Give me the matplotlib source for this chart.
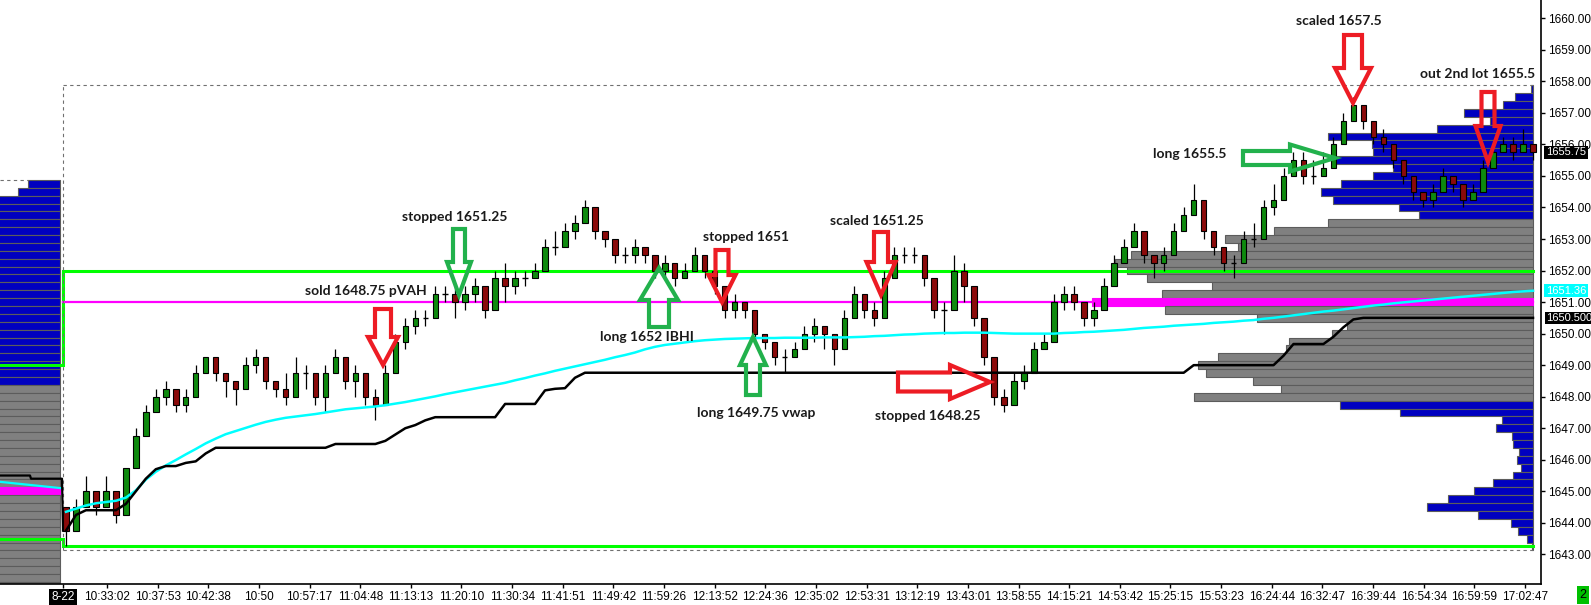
import numpy as np
import matplotlib
matplotlib.use("Agg")
import matplotlib.pyplot as plt
from matplotlib.patches import Polygon

# ---------------- data ----------------
first_open = 1644.5
closes = [1643.75, 1644.5, 1645.0, 1644.5, 1645.0, 1644.25, 1645.75, 1646.75, 1647.5, 1648.0,
          1648.25, 1647.75, 1648.0, 1648.75, 1649.25, 1648.75, 1648.5, 1648.25, 1649.0, 1649.25,
          1648.5, 1648.25, 1648.0, 1648.75, 1648.75, 1648.0, 1648.75, 1649.25, 1648.5, 1648.75,
          1648.0, 1647.75, 1648.75, 1649.75, 1650.25, 1650.5, 1650.5, 1651.25, 1651.25, 1651.0,
          1651.25, 1651.5, 1650.75, 1651.75, 1651.5, 1651.75, 1651.75, 1652.0, 1652.75, 1652.75,
          1653.25, 1653.5, 1654.0, 1653.25, 1653.0, 1652.5, 1652.5, 1652.75, 1652.5, 1652.0,
          1652.25, 1651.75, 1652.0, 1652.5, 1652.0, 1651.5, 1650.75, 1651.0, 1650.75, 1650.0,
          1649.75, 1649.25, 1649.25, 1649.5, 1650.0, 1650.25, 1650.0, 1649.5, 1650.5, 1651.25,
          1650.75, 1650.5, 1651.75, 1652.5, 1652.5, 1652.5, 1651.75, 1650.75, 1650.75, 1652.0,
          1651.5, 1650.5, 1649.25, 1648.0, 1647.75, 1648.5, 1648.75, 1649.5, 1649.75, 1651.0,
          1651.25, 1651.0, 1650.5, 1650.75, 1651.5, 1652.25, 1652.75, 1653.25, 1652.5, 1652.25,
          1652.5, 1653.25, 1653.75, 1654.25, 1653.25, 1652.75, 1652.25, 1652.25, 1653.0, 1653.0,
          1654.0, 1654.25, 1655.0, 1655.5, 1655.0, 1655.0, 1655.25, 1656.0, 1656.75, 1657.25,
          1656.75, 1656.25, 1656.0, 1655.5, 1655.0, 1654.5, 1654.25, 1654.5, 1655.0, 1654.75,
          1654.25, 1654.5, 1655.25, 1655.75, 1656.0, 1655.75, 1656.0, 1655.75]
highs = [1644.5, 1644.75, 1645.5, 1645.0, 1645.5, 1644.75, 1645.75, 1647.0, 1647.75, 1648.25,
         1648.5, 1648.25, 1648.25, 1649.0, 1649.25, 1649.0, 1648.75, 1648.5, 1649.25, 1649.5,
         1649.0, 1648.5, 1648.75, 1649.25, 1649.0, 1648.5, 1649.0, 1649.5, 1649.0, 1649.0,
         1648.5, 1648.25, 1649.0, 1650.0, 1650.5, 1650.75, 1650.75, 1651.5, 1651.5, 1651.5,
         1651.5, 1651.75, 1651.25, 1652.0, 1652.25, 1652.0, 1652.0, 1652.25, 1653.0, 1653.25,
         1653.5, 1653.75, 1654.25, 1653.75, 1653.25, 1653.0, 1652.75, 1653.0, 1652.75, 1652.5,
         1652.5, 1652.25, 1652.25, 1652.75, 1652.5, 1652.0, 1651.25, 1651.25, 1651.0, 1650.5,
         1650.0, 1649.75, 1649.5, 1649.75, 1650.25, 1650.5, 1650.25, 1650.0, 1650.75, 1651.5,
         1651.25, 1651.0, 1652.0, 1652.75, 1652.75, 1652.75, 1652.5, 1651.5, 1651.0, 1652.5,
         1652.25, 1651.25, 1650.0, 1648.75, 1648.25, 1648.75, 1649.0, 1649.75, 1650.0, 1651.25,
         1651.5, 1651.5, 1651.0, 1651.0, 1651.75, 1652.5, 1653.0, 1653.5, 1653.0, 1652.5,
         1652.75, 1653.5, 1654.0, 1654.75, 1653.75, 1653.25, 1652.75, 1652.5, 1653.25, 1653.5,
         1654.25, 1654.75, 1655.25, 1655.75, 1655.75, 1655.5, 1655.75, 1656.25, 1657.0, 1657.5,
         1657.25, 1656.75, 1656.5, 1656.0, 1655.5, 1655.0, 1654.5, 1654.75, 1655.25, 1655.0,
         1654.5, 1654.75, 1655.5, 1656.0, 1656.25, 1656.25, 1656.5, 1656.0]
lows = [1643.25, 1643.75, 1644.5, 1644.25, 1644.5, 1644.0, 1644.25, 1645.75, 1646.75, 1647.5,
        1647.75, 1647.5, 1647.5, 1648.0, 1648.75, 1648.5, 1648.0, 1647.75, 1648.25, 1648.75,
        1648.25, 1648.0, 1647.75, 1648.0, 1648.25, 1647.75, 1647.5, 1648.75, 1648.25, 1648.0,
        1647.75, 1647.25, 1647.75, 1648.75, 1649.5, 1650.0, 1650.25, 1650.5, 1651.0, 1650.5,
        1650.75, 1651.0, 1650.5, 1650.75, 1651.0, 1651.25, 1651.5, 1651.75, 1652.0, 1652.5,
        1652.75, 1653.0, 1653.5, 1653.0, 1652.75, 1652.25, 1652.25, 1652.25, 1652.25, 1651.75,
        1651.75, 1651.5, 1651.75, 1652.0, 1651.75, 1651.25, 1650.5, 1650.5, 1650.5, 1649.75,
        1649.5, 1649.0, 1648.75, 1649.25, 1649.5, 1649.75, 1649.5, 1649.0, 1649.5, 1650.5,
        1650.5, 1650.25, 1650.75, 1651.75, 1652.25, 1652.25, 1651.5, 1650.5, 1650.0, 1651.25,
        1651.0, 1650.25, 1649.0, 1647.75, 1647.5, 1647.75, 1648.25, 1648.75, 1649.5, 1649.75,
        1650.75, 1650.75, 1650.25, 1650.25, 1650.75, 1651.5, 1652.25, 1652.75, 1652.25, 1651.75,
        1652.0, 1652.75, 1653.25, 1653.75, 1653.0, 1652.5, 1652.0, 1651.75, 1652.25, 1652.75,
        1653.25, 1653.75, 1654.25, 1655.0, 1654.75, 1654.75, 1655.0, 1655.25, 1656.0, 1656.75,
        1656.5, 1656.0, 1655.75, 1655.25, 1654.75, 1654.25, 1654.0, 1654.0, 1654.5, 1654.5,
        1654.0, 1654.25, 1654.75, 1655.25, 1655.75, 1655.5, 1655.75, 1655.5]
vwap = [1644.35, 1644.45, 1644.55, 1644.62, 1644.66, 1644.70, 1644.80, 1645.03, 1645.37, 1645.62,
        1645.82, 1645.99, 1646.17, 1646.34, 1646.52, 1646.67, 1646.81, 1646.91, 1647.01, 1647.11,
        1647.20, 1647.27, 1647.33, 1647.37, 1647.41, 1647.45, 1647.50, 1647.55, 1647.60, 1647.63,
        1647.66, 1647.69, 1647.73, 1647.78, 1647.83, 1647.89, 1647.95, 1648.01, 1648.08, 1648.14,
        1648.20, 1648.26, 1648.32, 1648.38, 1648.44, 1648.52, 1648.59, 1648.67, 1648.74, 1648.82,
        1648.89, 1648.96, 1649.03, 1649.10, 1649.17, 1649.25, 1649.32, 1649.40, 1649.50, 1649.58,
        1649.64, 1649.68, 1649.72, 1649.76, 1649.79, 1649.81, 1649.83, 1649.84, 1649.85, 1649.86,
        1649.86, 1649.86, 1649.87, 1649.87, 1649.87, 1649.87, 1649.88, 1649.88, 1649.88, 1649.89,
        1649.90, 1649.92, 1649.93, 1649.95, 1649.97, 1649.98, 1650.00, 1650.01, 1650.02, 1650.02,
        1650.03, 1650.03, 1650.03, 1650.02, 1650.01, 1650.00, 1650.00, 1650.00, 1650.00, 1650.00,
        1650.02, 1650.03, 1650.05, 1650.06, 1650.08, 1650.10, 1650.12, 1650.15, 1650.18, 1650.20,
        1650.22, 1650.25, 1650.27, 1650.29, 1650.31, 1650.34, 1650.36, 1650.38, 1650.41, 1650.43,
        1650.47, 1650.50, 1650.54, 1650.58, 1650.62, 1650.66, 1650.70, 1650.73, 1650.77, 1650.81,
        1650.85, 1650.89, 1650.92, 1650.96, 1650.99, 1651.02, 1651.05, 1651.08, 1651.11, 1651.14,
        1651.17, 1651.20, 1651.23, 1651.26, 1651.29, 1651.32, 1651.34, 1651.36]
poc = ([1643.75, 1644.25] + [1644.4] * 4 +
       [1644.6, 1645.0, 1645.4, 1645.7, 1645.8, 1645.8, 1645.9, 1645.95, 1646.2] +
       [1646.38] * 12 + [1646.5] * 5 +
       [1646.6, 1646.8, 1647.0, 1647.1, 1647.25] + [1647.35] * 7 + [1647.77] * 4 +
       [1648.2, 1648.25, 1648.27, 1648.6] + [1648.76] * 61 + [1649.0] * 9 +
       [1649.3] + [1649.67] * 4 + [1649.9, 1650.2, 1650.45] + [1650.5] * 18)

x_labels = ["8-22", "10:33:02", "10:37:53", "10:42:38", "10:50", "10:57:17", "11:04:48",
            "11:13:13", "11:20:10", "11:30:34", "11:41:51", "11:49:42", "11:59:26", "12:13:52",
            "12:24:36", "12:35:02", "12:53:31", "13:12:19", "13:43:01", "13:58:55", "14:15:21",
            "14:53:42", "15:25:15", "15:53:23", "16:24:44", "16:32:47", "16:39:44", "16:54:34",
            "16:59:59", "17:02:47"]

# today's volume profile (price level -> volume units)
profile_prices = [1657.75, 1657.5, 1657.25, 1657.0, 1656.75, 1656.5, 1656.25, 1656.0, 1655.75,
                  1655.5, 1655.25, 1655.0, 1654.75, 1654.5, 1654.25, 1654.0, 1653.75, 1653.5,
                  1653.25, 1653.0, 1652.75, 1652.5, 1652.25, 1652.0, 1651.75, 1651.5, 1651.25,
                  1651.0, 1650.75, 1650.5, 1650.25, 1650.0, 1649.75, 1649.5, 1649.25, 1649.0,
                  1648.75, 1648.5, 1648.25, 1648.0, 1647.75, 1647.5, 1647.25, 1647.0, 1646.75,
                  1646.5, 1646.25, 1646.0, 1645.75, 1645.5, 1645.25, 1645.0, 1644.75, 1644.5,
                  1644.25, 1644.0, 1643.75, 1643.5, 1643.25]
profile_volume = [2, 18, 30, 69, 43, 96, 205, 161, 160,
                  198, 140, 160, 192, 212, 200, 134, 114, 205,
                  259, 308, 295, 402, 418, 406, 386, 321, 371,
                  441, 368, 276, 186, 201, 244, 247, 315, 335,
                  327, 280, 252, 339, 193, 133, 31, 37, 21,
                  20, 14, 16, 12, 20, 40, 59, 85, 106,
                  55, 22, 15, 6, 1]
va_low, va_high, poc_price = 1648.0, 1653.5, 1651.0

# previous session profile (left edge of the chart)
prev_prices = [1654.75, 1654.5, 1654.25, 1654.0, 1653.75, 1653.5, 1653.25, 1653.0, 1652.75,
               1652.5, 1652.25, 1652.0, 1651.75, 1651.5, 1651.25, 1651.0, 1650.75, 1650.5,
               1650.25, 1650.0, 1649.75, 1649.5, 1649.25, 1649.0, 1648.75, 1648.5, 1648.25,
               1648.0, 1647.75, 1647.5, 1647.25, 1647.0, 1646.75, 1646.5, 1646.25, 1646.0,
               1645.75, 1645.5, 1645.25, 1645.0, 1644.75, 1644.5, 1644.25, 1644.0, 1643.75,
               1643.5, 1643.25, 1643.0, 1642.75, 1642.5, 1642.25, 1642.0]
prev_volume = [32, 42, 80, 80, 80, 80, 80, 80, 80, 80, 80, 80, 80, 80, 80, 80, 80, 80,
               80, 80, 80, 80, 80, 80, 80, 80, 80, 80, 80, 80, 80, 80, 80, 80, 80, 80,
               80, 80, 80, 80, 80, 80, 80, 80, 80, 80, 80, 80, 80, 80, 80, 80]
prev_va_high, prev_poc_price = 1648.25, 1645.0

ib_high, ib_low = 1652.0, 1643.25
prev_ib_high, prev_ib_low = 1649.0, 1643.5
ref_level = 1651.0
session_top_edge, session_bottom_edge = 1657.875, 1643.125
prev_top_edge = 1654.875
prev_vwap_tail = [1645.3, 1645.1]
prev_poc_tail = [1645.5, 1645.4]
last_price, last_vwap, last_poc = 1655.75, 1651.36, 1650.5

annotations = [("stopped 1651.25", 455, 217), ("sold 1648.75 pVAH", 366, 291),
               ("long 1652 IBHI", 647, 337), ("stopped 1651", 746, 237),
               ("scaled 1651.25", 877, 221), ("long 1649.75 vwap", 756, 413),
               ("stopped 1648.25", 928, 416), ("long 1655.5", 1190, 154),
               ("scaled 1657.5", 1339, 21), ("out 2nd lot 1655.5", 1478, 74)]
# colour, tip x, tip y, direction, length, head length, shaft width, head width (pixels)
arrows = [("red", 383, 365, "down", 56, 28, 16, 30),
          ("green", 459, 295, "down", 66, 33, 12, 24),
          ("green", 659, 268, "up", 59, 32, 20, 38),
          ("red", 722, 302, "down", 52, 27, 13, 27),
          ("green", 753, 337, "up", 58, 28, 14, 26),
          ("red", 881, 295, "down", 63, 33, 14, 29),
          ("red", 990, 382, "right", 92, 40, 19, 34),
          ("green", 1335, 158, "right", 92, 45, 14, 27),
          ("red", 1353, 103, "down", 68, 35, 18, 36),
          ("red", 1488, 162, "down", 70, 36, 13, 25)]

# ---------------- layout ----------------
W, H = 1591, 605
AX_W, AX_H = 1541, 584
X_FIRST, X_LAST = 66.0, 1533.0
n = len(closes)
DX = (X_LAST - X_FIRST) / (n - 1)
Y_TOP, Y_BOT = 1660.58, 1642.06


def px2x(px):
    return (px - X_FIRST) / DX


def py2y(py):
    return Y_TOP - py * (Y_TOP - Y_BOT) / AX_H


fig = plt.figure(figsize=(W / 100, H / 100), dpi=100)
ax = fig.add_axes([0, (H - AX_H) / H, AX_W / W, AX_H / H])
ax.set_xlim(px2x(0), px2x(AX_W))
ax.set_ylim(Y_BOT, Y_TOP)

BLUE, GRAY, EDGE = "#0000c0", "#808080", "#5c5c5c"
MAGENTA, CYAN, LIME = "#ff00ff", "#00ffff", "#00ff00"
tick = 0.25

# today's profile
right = px2x(X_LAST)
for p, v in zip(profile_prices, profile_volume):
    w = v / DX
    if p == poc_price:
        fc, ec = MAGENTA, MAGENTA
    elif va_low <= p <= va_high:
        fc, ec = GRAY, EDGE
    else:
        fc, ec = BLUE, EDGE
    ax.barh(p, w, height=tick, left=right - w, color=fc, edgecolor=ec, linewidth=0.8, zorder=1)

# previous profile
prev_right = px2x(60)
for p, v in zip(prev_prices, prev_volume):
    w = v / DX
    if p == prev_poc_price:
        fc, ec = MAGENTA, MAGENTA
    elif p <= prev_va_high:
        fc, ec = GRAY, EDGE
    else:
        fc, ec = BLUE, EDGE
    ax.barh(p, w, height=tick, left=prev_right - w, color=fc, edgecolor=ec, linewidth=0.8, zorder=1)

# reference lines
x_start, x_end = px2x(63), px2x(X_LAST)
x_left = px2x(0)
ax.plot([x_left, x_start, x_start, x_end], [prev_ib_high, prev_ib_high, ib_high, ib_high],
        color=LIME, lw=2.2, zorder=2, solid_joinstyle="miter")
ax.plot([x_left, x_start, x_start, x_end], [prev_ib_low, prev_ib_low, ib_low, ib_low],
        color=LIME, lw=2.2, zorder=2, solid_joinstyle="miter")
ax.plot([x_start, x_end], [ref_level, ref_level], color=MAGENTA, lw=1.6, zorder=2)
ax.plot([x_start, x_end], [session_top_edge, session_top_edge], color="#707070", lw=0.8,
        ls=(0, (3, 3)), zorder=2)
ax.plot([x_start, x_end], [session_bottom_edge, session_bottom_edge], color="#707070", lw=0.8,
        ls=(0, (3, 3)), zorder=2)
ax.plot([x_start, x_start], [session_bottom_edge, session_top_edge], color="#707070", lw=0.8,
        ls=(0, (3, 3)), zorder=2)
ax.plot([x_left, px2x(28)], [prev_top_edge, prev_top_edge], color="#707070", lw=0.8,
        ls=(0, (3, 3)), zorder=2)
ax.plot([x_left, px2x(61)], prev_vwap_tail, color=CYAN, lw=1.6, zorder=4)
ax.plot([x_left, px2x(30), px2x(31), px2x(62), px2x(63)],
        [prev_poc_tail[0], prev_poc_tail[0], prev_poc_tail[1], prev_poc_tail[1], poc[0]],
        color="black", lw=1.6, zorder=4)

# candles
xs = np.arange(n)
opens = [first_open] + closes[:-1]
ax.vlines(xs, lows, highs, color="black", lw=0.9, zorder=3)
bw = 0.55
for i in range(n):
    o, c = opens[i], closes[i]
    if c == o:
        ax.hlines(c, i - bw / 2, i + bw / 2, color="black", lw=1.0, zorder=3.2)
    else:
        col = "#0e8a0e" if c > o else "#8b0a0a"
        ax.bar(i, abs(c - o), bottom=min(o, c), width=bw, color=col, edgecolor="black",
               linewidth=0.8, zorder=3.1)

# vwap and developing POC
ax.plot(xs, vwap, color=CYAN, lw=1.8, zorder=4)
ax.plot(xs, poc, color="black", lw=1.8, zorder=4)

# arrows
colors = {"red": "#ed1c24", "green": "#22b14c"}
for col, tx, ty, d, L, Hl, sw, hw in arrows:
    if d in ("down", "up"):
        s = 1 if d == "down" else -1
        pts = [(tx - sw / 2, ty - s * L), (tx + sw / 2, ty - s * L), (tx + sw / 2, ty - s * Hl),
               (tx + hw / 2, ty - s * Hl), (tx, ty), (tx - hw / 2, ty - s * Hl),
               (tx - sw / 2, ty - s * Hl)]
    else:
        pts = [(tx - L, ty - sw / 2), (tx - Hl, ty - sw / 2), (tx - Hl, ty - hw / 2), (tx, ty),
               (tx - Hl, ty + hw / 2), (tx - Hl, ty + sw / 2), (tx - L, ty + sw / 2)]
    pts = [(px2x(a), py2y(b)) for a, b in pts]
    ax.add_patch(Polygon(pts, closed=True, fill=False, edgecolor=colors[col], lw=3,
                         joinstyle="miter", zorder=5))

for s, tx, ty in annotations:
    ax.text(px2x(tx), py2y(ty), s, ha="center", va="center", fontsize=10, fontweight="bold",
            family="Lato", color="#1a1a1a", zorder=6)

# axes styling
for sp in ("top", "left"):
    ax.spines[sp].set_visible(False)
ax.spines["right"].set_linewidth(1.2)
ax.spines["bottom"].set_linewidth(1.2)
ax.yaxis.tick_right()
yt = np.arange(1643, 1661)
ax.set_yticks(yt)
ax.set_yticklabels([f"{v:.2f}" for v in yt], family="Liberation Sans", fontsize=8.5)
xt = [px2x(63)] + [px2x(107 + k * 50.64) for k in range(len(x_labels) - 1)]
ax.set_xticks(xt)
ax.set_xticklabels(x_labels, family="Liberation Sans", fontsize=8.5)
ax.tick_params(axis="both", direction="out", length=3, width=1, pad=2, colors="black")
lab0 = ax.get_xticklabels()[0]
lab0.set_color("white")
lab0.set_bbox(dict(facecolor="black", edgecolor="none", pad=1.5))

ytr = ax.get_yaxis_transform()
xo = 1 + 5 / AX_W
box_kw = dict(transform=ytr, ha="left", va="center", fontsize=8, family="Liberation Sans",
              color="white", zorder=10, clip_on=False)
ax.text(xo, last_price, f"{last_price:.2f}",
        bbox=dict(facecolor="black", edgecolor="none", pad=1.2), **box_kw)
ax.text(xo, last_vwap, f"{last_vwap:.2f}",
        bbox=dict(facecolor=CYAN, edgecolor="none", pad=1.2), **box_kw)
ax.text(xo, last_poc, f"{last_poc:.3f}",
        bbox=dict(facecolor="black", edgecolor="none", pad=1.0), **box_kw)
fig.text(1583 / W, 1 - 595 / H, "2", ha="center", va="center", fontsize=9,
         family="Liberation Sans", color="black",
         bbox=dict(facecolor="#00c000", edgecolor="none", pad=2))

fig.savefig("out.png", dpi=100)
